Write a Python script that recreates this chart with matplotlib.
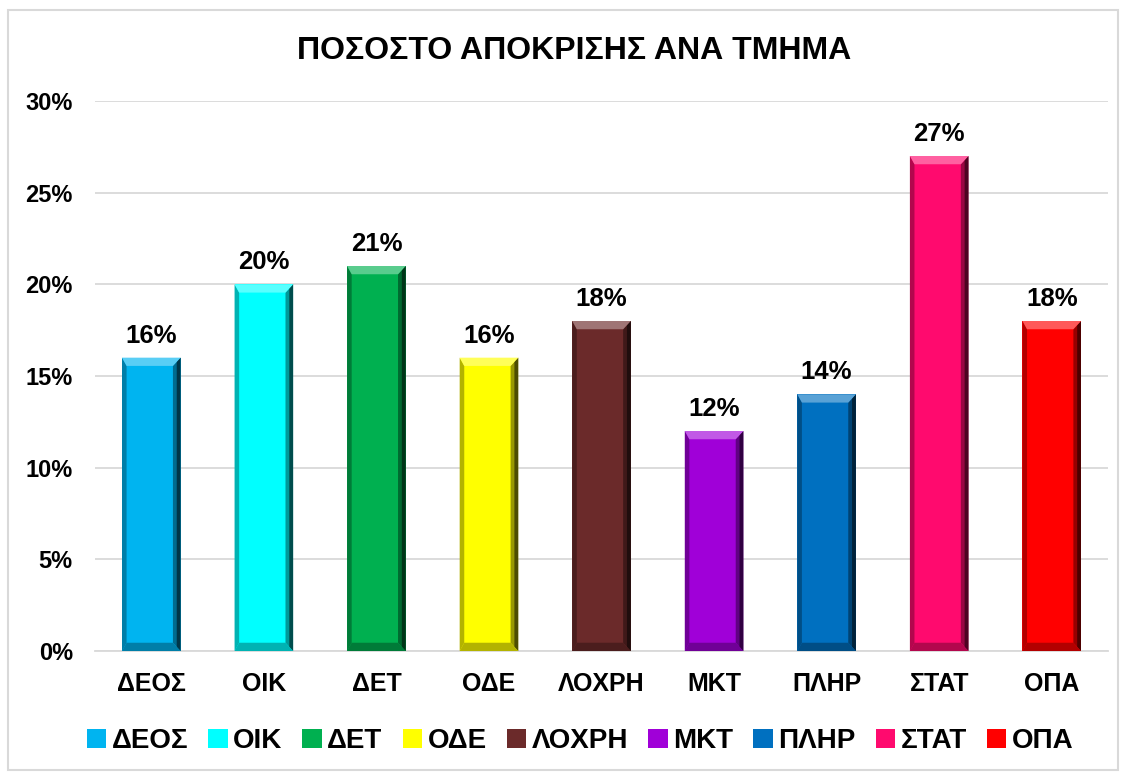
import matplotlib
matplotlib.use("Agg")
import matplotlib.pyplot as plt
from matplotlib.patches import Polygon, Rectangle
from matplotlib.ticker import PercentFormatter
import matplotlib.colors as mcolors

plt.rcParams['font.family'] = ['Liberation Sans', 'DejaVu Sans']
plt.rcParams['font.weight'] = 'bold'

categories = ["ΔΕΟΣ", "ΟΙΚ", "ΔΕΤ", "ΟΔΕ", "ΛΟΧΡΗ", "ΜΚΤ", "ΠΛΗΡ", "ΣΤΑΤ", "ΟΠΑ"]
values = [0.16, 0.20, 0.21, 0.16, 0.18, 0.12, 0.14, 0.27, 0.18]
colors = ["#00B4F0", "#00FFFF", "#00B050", "#FFFF00", "#6B2A2A", "#A000D8", "#0070C0", "#FF0A6E", "#FF0000"]
title = "ΠΟΣΟΣΤΟ ΑΠΟΚΡΙΣΗΣ ΑΝΑ ΤΜΗΜΑ"

fig = plt.figure(figsize=(11.24, 7.72), dpi=100)
# outer border
fig.patches.append(Rectangle((8/1124, 2/772), 1110/1124, 760/772, transform=fig.transFigure,
                             fill=False, edgecolor="#D9D9D9", linewidth=1.5))

ax = fig.add_axes([95/1124, 1 - 651/772, 1013/1124, 550/772])
x = list(range(len(categories)))
width = 0.52
bars = ax.bar(x, values, width=width, color=colors, zorder=3)

# bevel effect derived from bar geometry
for b, c in zip(bars, colors):
    x0, y0 = b.get_x(), b.get_y()
    w, h = b.get_width(), b.get_height()
    rgb = mcolors.to_rgb(c)
    dark = tuple(v * 0.3 for v in rgb)
    dark2 = tuple(v * 0.6 for v in rgb)
    mid = tuple(v * 0.7 for v in rgb)
    light = tuple(min(1, v + (1 - v) * 0.35) for v in rgb)
    bw = w * 0.13
    bh = 0.0045
    # right edge dark (two-step gradient)
    ax.add_patch(Polygon([(x0 + w - bw, y0 + bh), (x0 + w, y0), (x0 + w, y0 + h), (x0 + w - bw, y0 + h - bh)],
                         closed=True, facecolor=dark2, edgecolor='none', zorder=4))
    ax.add_patch(Polygon([(x0 + w - bw * 0.5, y0 + bh * 0.5), (x0 + w, y0), (x0 + w, y0 + h), (x0 + w - bw * 0.5, y0 + h - bh * 0.5)],
                         closed=True, facecolor=dark, edgecolor='none', zorder=4))
    # left edge mid
    ax.add_patch(Polygon([(x0, y0), (x0 + bw * 0.6, y0 + bh), (x0 + bw * 0.6, y0 + h - bh), (x0, y0 + h)],
                         closed=True, facecolor=mid, edgecolor='none', zorder=4))
    # top light
    ax.add_patch(Polygon([(x0, y0 + h), (x0 + w, y0 + h), (x0 + w - bw, y0 + h - bh), (x0 + bw * 0.6, y0 + h - bh)],
                         closed=True, facecolor=light, edgecolor='none', zorder=4))
    # bottom mid
    ax.add_patch(Polygon([(x0, y0), (x0 + w, y0), (x0 + w - bw, y0 + bh), (x0 + bw * 0.6, y0 + bh)],
                         closed=True, facecolor=mid, edgecolor='none', zorder=4))
    ax.text(b.get_x() + w / 2, h + 0.0055, f"{round(h*100)}%", ha='center', va='bottom',
            fontsize=18.5, fontweight='bold', color='black', zorder=5)

ax.set_ylim(0, 0.30)
ax.set_xlim(-0.5, len(categories) - 0.5)
ax.set_yticks([0, 0.05, 0.10, 0.15, 0.20, 0.25, 0.30])
ax.yaxis.set_major_formatter(PercentFormatter(1.0, decimals=0))
ax.set_xticks(x)
ax.set_xticklabels(categories)
ax.tick_params(axis='x', length=0, labelsize=18, pad=15)
ax.tick_params(axis='y', length=0, labelsize=17, pad=16)
for lab in ax.get_xticklabels() + ax.get_yticklabels():
    lab.set_fontweight('bold')
ax.grid(axis='y', color='#D9D9D9', linewidth=1.3, zorder=0)
for s in ['top', 'right', 'left']:
    ax.spines[s].set_visible(False)
ax.spines['bottom'].set_color('#D9D9D9')
ax.spines['bottom'].set_linewidth(1.3)

fig.text(574/1124, 1 - 51/772, title, ha='center', va='center', fontsize=23, fontweight='bold')

leg = fig.legend(bars, categories, loc='center', bbox_to_anchor=(580/1124, 1 - 741/772), ncol=9,
                 frameon=False, handlelength=0.7, handleheight=0.7, handletextpad=0.2,
                 columnspacing=0.72, prop={'weight': 'bold', 'size': 20})

fig.savefig("out.png", dpi=100)
